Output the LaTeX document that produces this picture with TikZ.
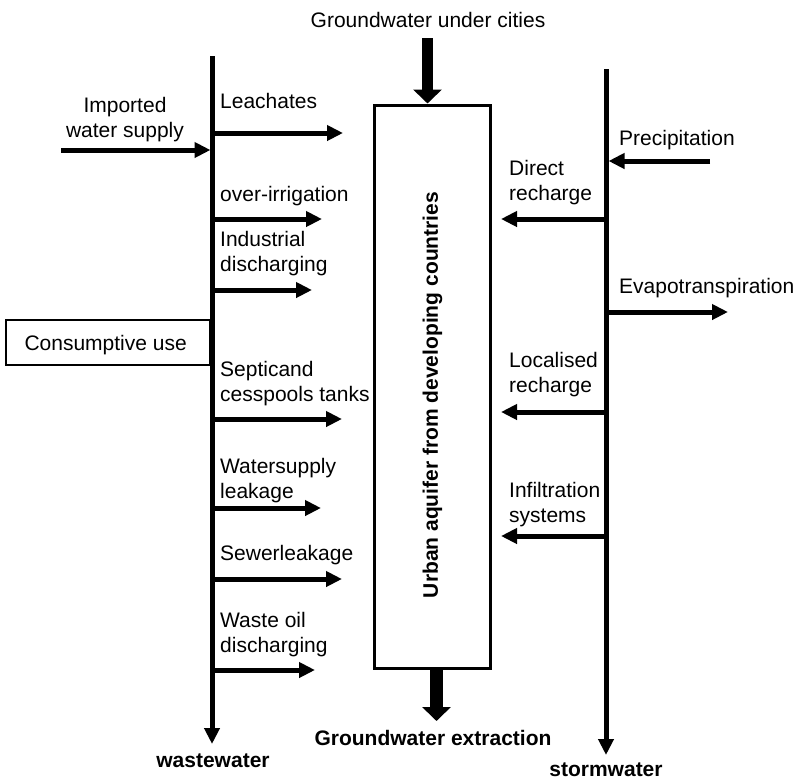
\documentclass[tikz,border=0pt]{standalone}
\usepackage{fontspec}
\setmainfont{Liberation Sans}
\usetikzlibrary{arrows.meta,calc}

\tikzset{
  txt/.style={font=\fontsize{21}{25}\selectfont, inner sep=0pt, align=left},
  btxt/.style={font=\fontsize{21}{25}\selectfont\bfseries, inner sep=0pt},
  trunk/.style={line width=5pt, -{Triangle[length=16pt,width=15pt]}},
  flow/.style={line width=5pt, -{Triangle[length=16pt,width=15pt]}},
  bigflow/.style={-{Triangle[length=14pt,width=28pt]}},
}

\begin{document}
\begin{tikzpicture}[x=1pt,y=-1pt]
\useasboundingbox (0,0) rectangle (798,780);

% ---------- central aquifer ----------
\node[draw, line width=3pt, minimum width=116pt, minimum height=563pt, inner sep=0pt]
  (aquifer) at (432.2,386.5) {};
\node[btxt, rotate=90] (aqtext) at (432.5,395) {Urban aquifer from developing countries};

\node[txt, anchor=base] (gwcities) at (428,27) {Groundwater under cities};
\coordinate (topstart) at (427.5,38);
\draw[bigflow, line width=10.5pt] (topstart) -- (topstart |- aquifer.north);

\node[btxt, anchor=base] (gwext) at (433,745) {Groundwater extraction};
\coordinate (botend) at (436.5,721);
\draw[bigflow, line width=13pt] (botend |- aquifer.south) -- (botend);

% ---------- wastewater trunk ----------
% (base anchor of a two-line label sits on its second line)
\coordinate (wwtop) at (212,56);
\coordinate (wwend) at (212,744);
\draw[trunk] (wwtop) -- (wwend);
\node[btxt, anchor=base] (ww) at (213,767) {wastewater};

\node[txt, align=center, anchor=base] (imp) at (125,137) {Imported\\water supply};
\coordinate (impS) at (61,150);
\coordinate (impE) at (210.5,150);
\draw[flow] (impS) -- (impE);

\node[draw, line width=1.2pt, minimum width=203.5pt, minimum height=45pt, anchor=east,
      font=\fontsize{21}{25}\selectfont, inner sep=0pt, text depth=0pt]
  (cons) at (210,342.5) {Consumptive use\hspace*{4pt}};

\node[txt, anchor=base west] (leach) at (220,108) {Leachates};
\draw[flow] (212,133) coordinate (leachS) -- (343,133) coordinate (leachE);

\node[txt, anchor=base west] (irr) at (220,201) {over-irrigation};
\draw[flow] (212,219) coordinate (irrS) -- (322,219) coordinate (irrE);

\node[txt, anchor=base west] (ind) at (220,271) {Industrial\\discharging};
\draw[flow] (212,290) coordinate (indS) -- (312,290) coordinate (indE);

\node[txt, anchor=base west] (sep) at (220,401) {Septicand\\cesspools tanks};
\draw[flow] (212,419) coordinate (sepS) -- (342,419) coordinate (sepE);

\node[txt, anchor=base west] (wsl) at (220,498) {Watersupply\\leakage};
\draw[flow] (212,508) coordinate (wslS) -- (321,508) coordinate (wslE);

\node[txt, anchor=base west] (sew) at (220,560) {Sewerleakage};
\draw[flow] (212,579) coordinate (sewS) -- (342,579) coordinate (sewE);

\node[txt, anchor=base west] (oil) at (220,652) {Waste oil\\discharging};
\draw[flow] (212,670) coordinate (oilS) -- (315,670) coordinate (oilE);

% ---------- stormwater trunk ----------
\coordinate (swtop) at (606,69);
\coordinate (swend) at (606,755);
\draw[trunk] (swtop) -- (swend);
\node[btxt, anchor=base] (sw) at (606,776) {stormwater};

\node[txt, anchor=base west] (prec) at (619,145) {Precipitation};
\draw[flow] (710,161) coordinate (precS) -- (608.5,161) coordinate (precE);

\node[txt, anchor=base west] (dir) at (509,200) {Direct\\recharge};
\draw[flow] (606,219) coordinate (dirS) -- (501,219) coordinate (dirE);

\node[txt, anchor=base west] (evap) at (619,293) {Evapotranspiration};
\draw[flow] (606,312) coordinate (evapS) -- (728,312) coordinate (evapE);

\node[txt, anchor=base west] (loc) at (509,392) {Localised\\recharge};
\draw[flow] (606,412) coordinate (locS) -- (501,412) coordinate (locE);

\node[txt, anchor=base west] (inf) at (509,522) {Infiltration\\systems};
\draw[flow] (606,536) coordinate (infS) -- (501,536) coordinate (infE);

\end{tikzpicture}
\end{document}
